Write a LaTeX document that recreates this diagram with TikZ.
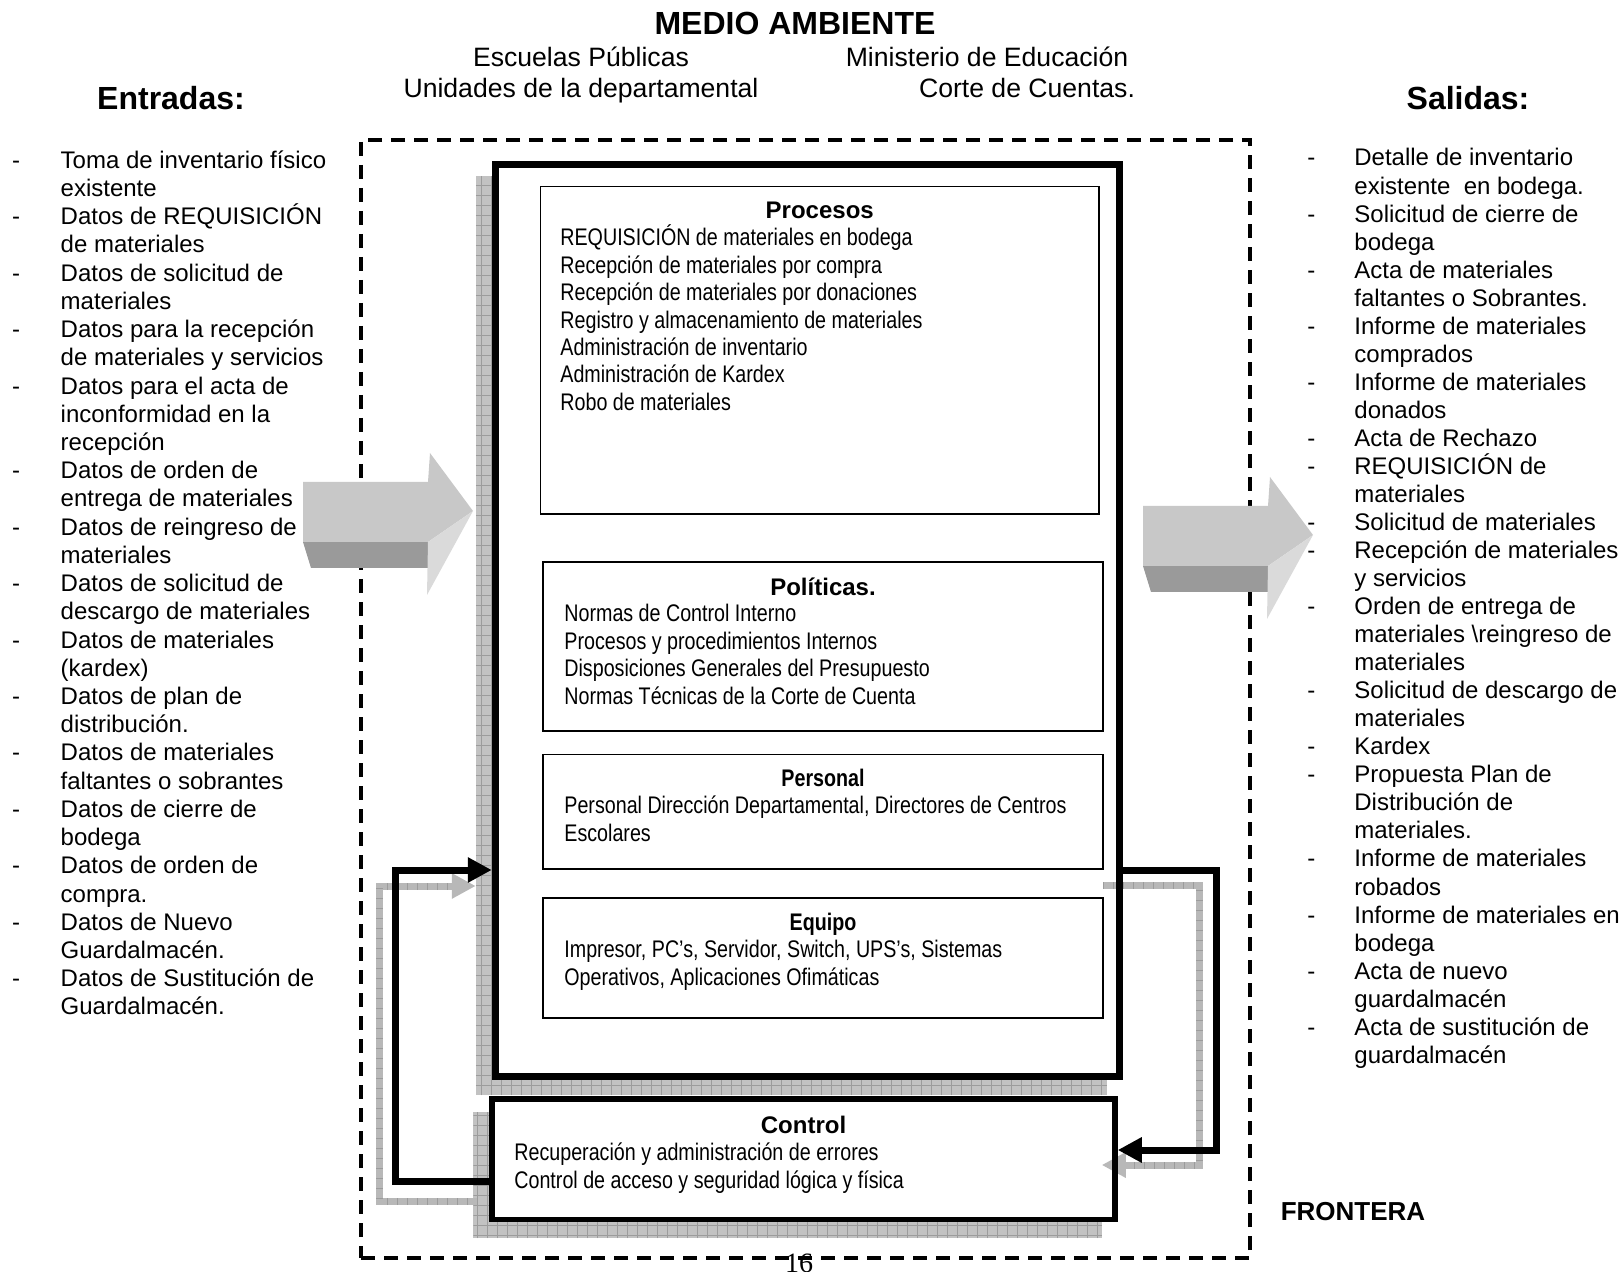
\documentclass[tikz,border=0pt]{standalone}
\usepackage{fontspec}
\setmainfont{Liberation Sans}
\newfontfamily\narrowfont[FakeStretch=0.82]{Liberation Sans}
\newfontfamily\pagefont{Liberation Serif}
\usetikzlibrary{arrows.meta}

% stacked lines with a fixed baseline distance; the box baseline is the first line
\newcommand\rows[1]{\vtop{\lineskiplimit=-\maxdimen\halign{##\hfil\cr#1\crcr}}}
% the same, with a first column of the given width for the list dashes
\newcommand\dashrows[2]{\vtop{\lineskiplimit=-\maxdimen\halign{\hbox to #1{##\hfil}&##\hfil\cr#2\crcr}}}

\definecolor{arrowface}{HTML}{C8C8C8}
\definecolor{arrowdark}{HTML}{9A9A9A}
\definecolor{arrowlight}{HTML}{DADADA}
\definecolor{shadowfill}{HTML}{C2C2C2}
\definecolor{shadowgrid}{HTML}{9C9C9C}
\definecolor{loopgrey}{HTML}{B8B8B8}

\tikzset{
  bigarrow/.pic={
    \fill[arrowdark] (0,60) -- (125,60) -- (125,86) -- (8,86) -- cycle;
    \fill[arrowface] (0,0) -- (125,0) -- (127,-29) -- (170,29) -- (125,60) -- (0,60) -- cycle;
    \fill[arrowlight] (125,60) -- (170,29) -- (124,113) -- cycle;
  }
}

\begin{document}
\begin{tikzpicture}[x=0.5pt,y=-0.5pt,
  txt/.style={inner sep=0pt, anchor=base west},
  ctxt/.style={inner sep=0pt, anchor=base},
  body/.style={font=\fontsize{12}{14.11}\selectfont},
  narrowbody/.style={font=\narrowfont\fontsize{12}{13.7}\selectfont},
  head/.style={font=\bfseries\fontsize{12}{14}\selectfont},
  narrowhead/.style={font=\narrowfont\bfseries\fontsize{12}{14}\selectfont},
  title/.style={font=\bfseries\fontsize{16}{19}\selectfont},
  env/.style={font=\fontsize{13.3}{16}\selectfont},
  frontier/.style={draw, line width=1.75pt, dash pattern=on 7pt off 4.5pt, inner sep=0pt},
  thinbox/.style={draw, line width=0.75pt, inner sep=0pt},
  sysfill/.style={fill=white, line width=3.75pt, inner sep=0pt},
  sysframe/.style={draw, line width=3.75pt, inner sep=0pt},
  ctlfill/.style={fill=white, line width=2.75pt, inner sep=0pt},
  ctlframe/.style={draw, line width=2.75pt, inner sep=0pt},
  shadowbox/.style={fill=shadowfill, inner sep=0pt, outer sep=0pt,
    path picture={\draw[shadowgrid, line width=0.3pt, step=5pt]
      (path picture bounding box.north west) grid (path picture bounding box.south east);}},
  feedback/.style={line width=3.5pt, line join=miter, -{Triangle[length=12pt,width=12pt]}},
  greyfeedback/.style={feedback, draw=loopgrey},
  greyticks/.style={draw=shadowgrid, line width=3.5pt, dash pattern=on 0.35pt off 4.65pt, shorten >=12pt}
]
\useasboundingbox (0,0) rectangle (1623,1272);

% system boundary
\node[frontier, minimum width=444.5pt, minimum height=559pt] (boundary) at (805.5,699) {};

% drop shadows of the two system boxes
\node[shadowbox, minimum width=315.75pt, minimum height=459.75pt] (syssh) at (791.5,635.5) {};
\node[shadowbox, minimum width=314.25pt, minimum height=63pt] (ctlsh) at (787.5,1175.25) {};

% white interiors of the system boxes
\node[sysfill, minimum width=312pt, minimum height=456pt] (sysbg) at (807.5,620.5) {};
\node[ctlfill, minimum width=311.5pt, minimum height=60.25pt] (ctlbg) at (803.5,1159.25) {};

% corner points of the feedback loops
\coordinate (glt) at (379.5,886);
\coordinate (glb) at (379.5,1201);
\coordinate (grt) at (1199,885.5);
\coordinate (grb) at (1199,1165);
\coordinate (lt) at (395.5,870);
\coordinate (lb) at (395.5,1181);
\coordinate (rt) at (1216,870);
\coordinate (rb) at (1216,1150);

% shadowed feedback loops
\draw[greyfeedback] (glb -| ctlsh.west) ++(4,0) -- (glb) -- (glt) -- (glt -| syssh.west);
\draw[greyticks] (glb -| ctlsh.west) ++(4,0) -- (glb) -- (glt) -- (glt -| syssh.west);
\draw[greyfeedback] (grt -| syssh.east) ++(-4,0) -- (grt) -- (grb) -- (grb -| ctlsh.east);
\draw[greyticks] (grt -| syssh.east) ++(-4,0) -- (grt) -- (grb) -- (grb -| ctlsh.east);

% frames of the system boxes
\node[sysframe, minimum width=312pt, minimum height=456pt] (sys) at (807.5,620.5) {};
\node[ctlframe, minimum width=311.5pt, minimum height=60.25pt] (ctl) at (803.5,1159.25) {};

% feedback loops
\draw[feedback] (lb -| ctl.west) -- (lb) -- (lt) -- (lt -| sys.west);
\draw[feedback] (rt -| sys.east) -- (rt) -- (rb) -- (rb -| ctl.east);

% inner boxes
\node[thinbox, minimum width=279.25pt, minimum height=163.75pt] (proc) at (819.75,350.25) {};
\node[thinbox, minimum width=280pt, minimum height=84.5pt] (pol) at (823,646.5) {};
\node[thinbox, minimum width=280pt, minimum height=57.25pt] (pers) at (823,811.75) {};
\node[thinbox, minimum width=280pt, minimum height=60pt] (equ) at (823,958) {};

% input and output arrows
\pic at (303,482) {bigarrow};
\pic at (1143,506) {bigarrow};

% environment
\node[ctxt, title] (medio) at (795,34.5) {MEDIO AMBIENTE};
\node[ctxt, env] (escuelas) at (581,67) {Escuelas Públicas};
\node[ctxt, env] (ministerio) at (987,67) {Ministerio de Educación};
\node[ctxt, env] (unidades) at (581,98) {Unidades de la departamental};
\node[ctxt, env] (corte) at (1027,98) {Corte de Cuentas.};
\node[ctxt, title] (entradas) at (171,110) {Entradas:};
\node[ctxt, title] (salidas) at (1468,110) {Salidas:};

% inputs
\node[txt, body] (inputs) at (11.7,168.3) {\dashrows{24.3pt}{%
-&Toma de inventario físico\cr
&existente\cr
-&Datos de REQUISICIÓN\cr
&de materiales\cr
-&Datos de solicitud de\cr
&materiales\cr
-&Datos para la recepción\cr
&de materiales y servicios\cr
-&Datos para el acta de\cr
&inconformidad en la\cr
&recepción\cr
-&Datos de orden de\cr
&entrega de materiales\cr
-&Datos de reingreso de\cr
&materiales\cr
-&Datos de solicitud de\cr
&descargo de materiales\cr
-&Datos de materiales\cr
&(kardex)\cr
-&Datos de plan de\cr
&distribución.\cr
-&Datos de materiales\cr
&faltantes o sobrantes\cr
-&Datos de cierre de\cr
&bodega\cr
-&Datos de orden de\cr
&compra.\cr
-&Datos de Nuevo\cr
&Guardalmacén.\cr
-&Datos de Sustitución de\cr
&Guardalmacén.}};

% outputs
\node[txt, font=\fontsize{12}{14.02}\selectfont] (outputs) at (1307,166) {\dashrows{23.5pt}{%
-&Detalle de inventario\cr
&existente\ \ en bodega.\cr
-&Solicitud de cierre de\cr
&bodega\cr
-&Acta de materiales\cr
&faltantes o Sobrantes.\cr
-&Informe de materiales\cr
&comprados\cr
-&Informe de materiales\cr
&donados\cr
-&Acta de Rechazo\cr
-&REQUISICIÓN de\cr
&materiales\cr
-&Solicitud de materiales\cr
-&Recepción de materiales\cr
&y servicios\cr
-&Orden de entrega de\cr
&materiales \textbackslash reingreso de\cr
&materiales\cr
-&Solicitud de descargo de\cr
&materiales\cr
-&Kardex\cr
-&Propuesta Plan de\cr
&Distribución de\cr
&materiales.\cr
-&Informe de materiales\cr
&robados\cr
-&Informe de materiales en\cr
&bodega\cr
-&Acta de nuevo\cr
&guardalmacén\cr
-&Acta de sustitución de\cr
&guardalmacén}};

% box contents
\node[ctxt, head] (proch) at (819.75,219) {Procesos};
\node[txt, narrowbody] (procl) at (560,246) {\rows{%
REQUISICIÓN de materiales en bodega\cr
Recepción de materiales por compra\cr
Recepción de materiales por donaciones\cr
Registro y almacenamiento de materiales\cr
Administración de inventario\cr
Administración de Kardex\cr
Robo de materiales}};

\node[ctxt, head] (polh) at (823,596) {Políticas.};
\node[txt, narrowbody] (poll) at (564,622) {\rows{%
Normas de Control Interno\cr
Procesos y procedimientos Internos\cr
Disposiciones Generales del Presupuesto\cr
Normas Técnicas de la Corte de Cuenta}};

\node[ctxt, narrowhead] (persh) at (823,786) {Personal};
\node[txt, font=\narrowfont\fontsize{12}{14}\selectfont] (persl) at (564,813) {\rows{%
Personal Dirección Departamental, Directores de Centros\cr
Escolares}};

\node[ctxt, narrowhead] (equh) at (823,930) {Equipo};
\node[txt, font=\narrowfont\fontsize{12}{14}\selectfont] (equl) at (564,957) {\rows{%
Impresor, PC’s, Servidor, Switch, UPS’s, Sistemas\cr
Operativos, Aplicaciones Ofimáticas}};

\node[ctxt, head] (ctlh) at (803.5,1133) {Control};
\node[txt, font=\narrowfont\fontsize{12}{14}\selectfont] (ctll) at (514,1160.5) {\rows{%
Recuperación y administración de errores\cr
Control de acceso y seguridad lógica y física}};

\node[ctxt, font=\bfseries\fontsize{13}{15}\selectfont] (frontera) at (1353,1220) {FRONTERA};
\node[ctxt, font=\pagefont\fontsize{14}{16}\selectfont] (page) at (799,1272) {16};
\end{tikzpicture}
\end{document}
